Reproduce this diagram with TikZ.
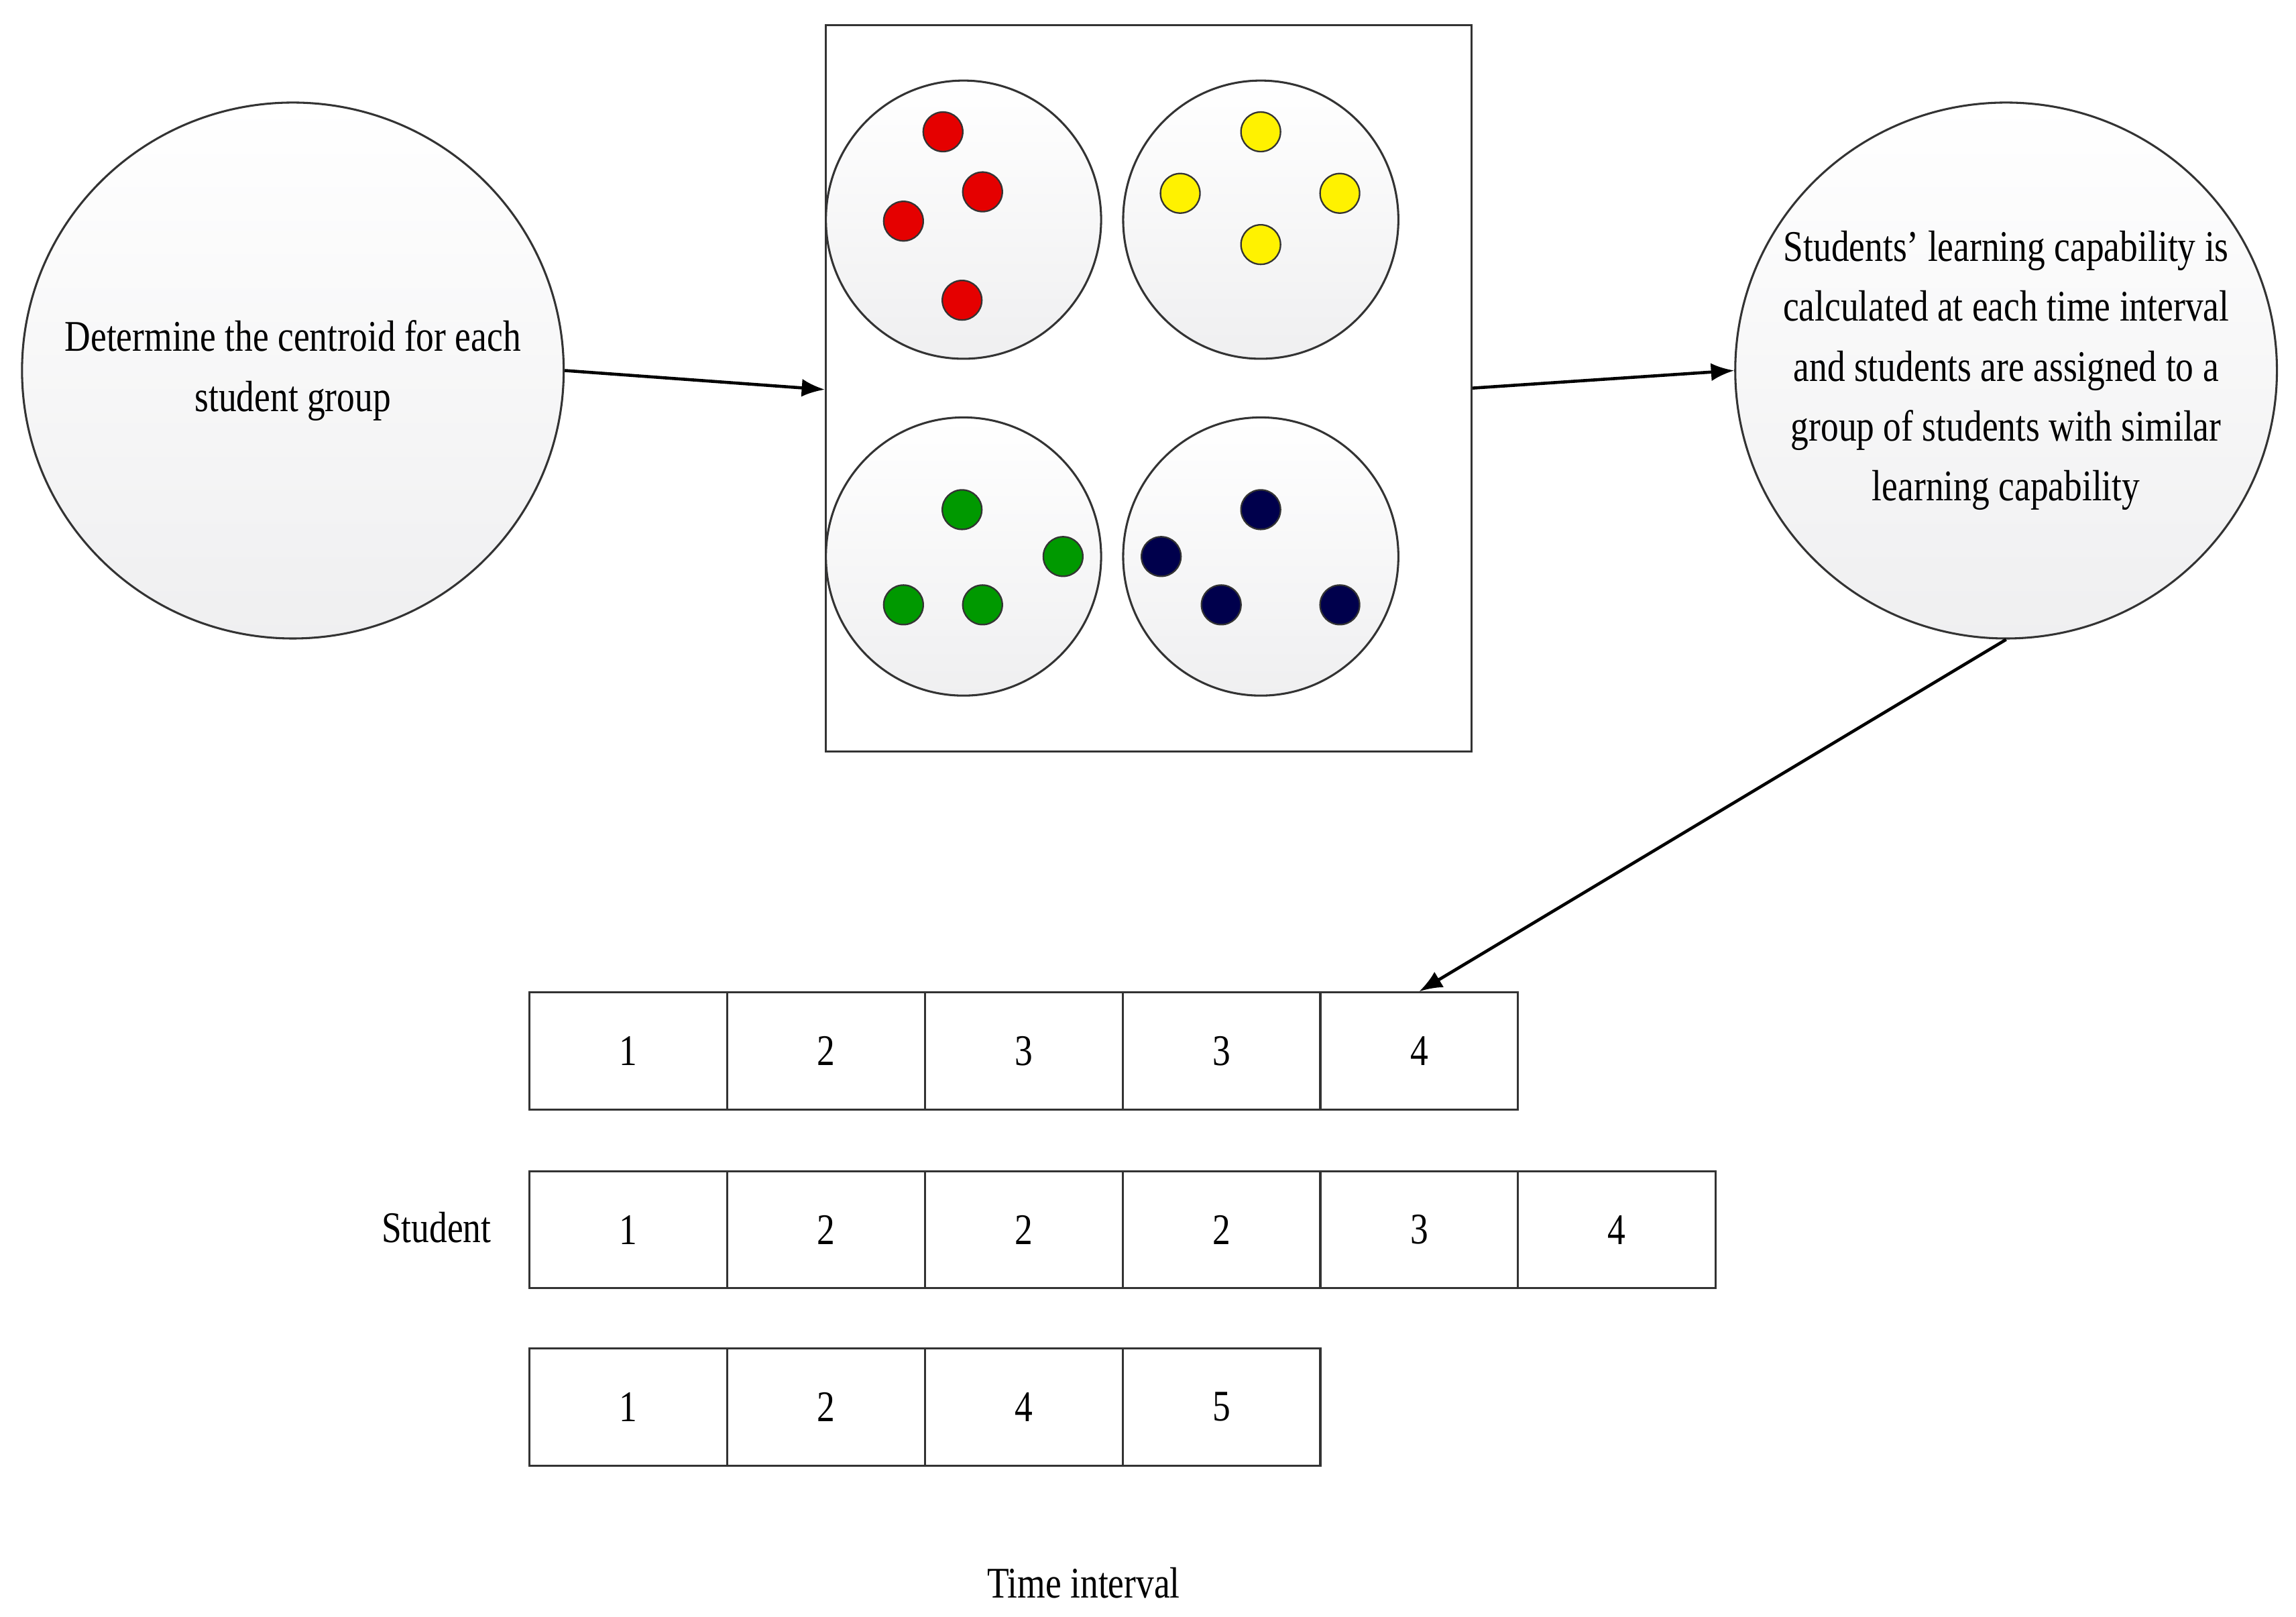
\documentclass[tikz,border=0pt]{standalone}
\usepackage{fontspec}
\setmainfont{Liberation Serif}[FakeStretch=0.82]
\usetikzlibrary{arrows.meta,shapes.geometric}
\begin{document}
\begin{tikzpicture}[x=0.02cm,y=-0.02cm,
  bub/.style={draw=black!80,line width=0.8pt,top color=white,bottom color=blue!4!gray!12},
  dot/.style={circle,draw=black!80,line width=0.6pt,minimum size=0.54cm,inner sep=0pt},
  cell/.style={draw=black!80,line width=0.8pt,minimum width=2.7cm,minimum height=1.6cm,inner sep=0pt,anchor=north west,font=\fontsize{17}{19}\selectfont},
  arr/.style={-{Latex[length=9pt,width=7pt]},line width=1.2pt},
  txt/.style={font=\fontsize{17}{23.3}\selectfont,align=center}]
\useasboundingbox (0,0) rectangle (1568,1104);
\node[bub,ellipse,minimum width=7.4cm,minimum height=7.32cm] (L) at (200,253) {};
\node[txt] at (200,253) {Determine the centroid for each\\student group};
\node[draw=black!80,line width=0.8pt,fill=white,minimum width=8.82cm,minimum height=9.92cm,inner sep=0pt] (B) at (784.5,265) {};
\foreach \n/\x/\y in {tl/658/150,tr/861/150,bl/658/380,br/861/380}
  \node[bub,ellipse,minimum width=3.76cm,minimum height=3.8cm] (\n) at (\x,\y) {};
\foreach \i/\x/\y in {1/644/90,2/671/131,3/617/151,4/657/205}
  \node[dot,fill=red!90!black] (r\i) at (\x,\y) {};
\foreach \i/\x/\y in {1/861/90,2/806/132,3/915/132,4/861/167}
  \node[dot,fill=yellow] (y\i) at (\x,\y) {};
\foreach \i/\x/\y in {1/657/348,2/726/380,3/617/413,4/671/413}
  \node[dot,fill=green!60!black] (g\i) at (\x,\y) {};
\foreach \i/\x/\y in {1/861/348,2/793/380,3/834/413,4/915/413}
  \node[dot,fill=blue!30!black] (n\i) at (\x,\y) {};
\node[bub,ellipse,minimum width=7.4cm,minimum height=7.32cm] (R) at (1370,253) {};
\node[txt] at (1370,253) {Students' learning capability is\\calculated at each time interval\\and students are assigned to a\\group of students with similar\\learning capability};
% tables
\foreach \v [count=\i from 0] in {1,2,3,3,4}
  \node[cell] (a\i) at (361+135*\i,677) {\v};
\foreach \v [count=\i from 0] in {1,2,2,2,3,4}
  \node[cell] (b\i) at (361+135*\i,799) {\v};
\foreach \v [count=\i from 0] in {1,2,4,5}
  \node[cell] (c\i) at (361+135*\i,920) {\v};
\node[font=\fontsize{17}{19}\selectfont] (st) at (298,838) {Student};
\node[font=\fontsize{17}{19}\selectfont] (ti) at (740,1081) {Time interval};
\draw[arr] (L.east) -- (B.west |- 0,266);
\draw[arr] (B.east |- 0,265) -- (R.west);
\draw[arr] (R.south) -- (a4.north);
\end{tikzpicture}
\end{document}
